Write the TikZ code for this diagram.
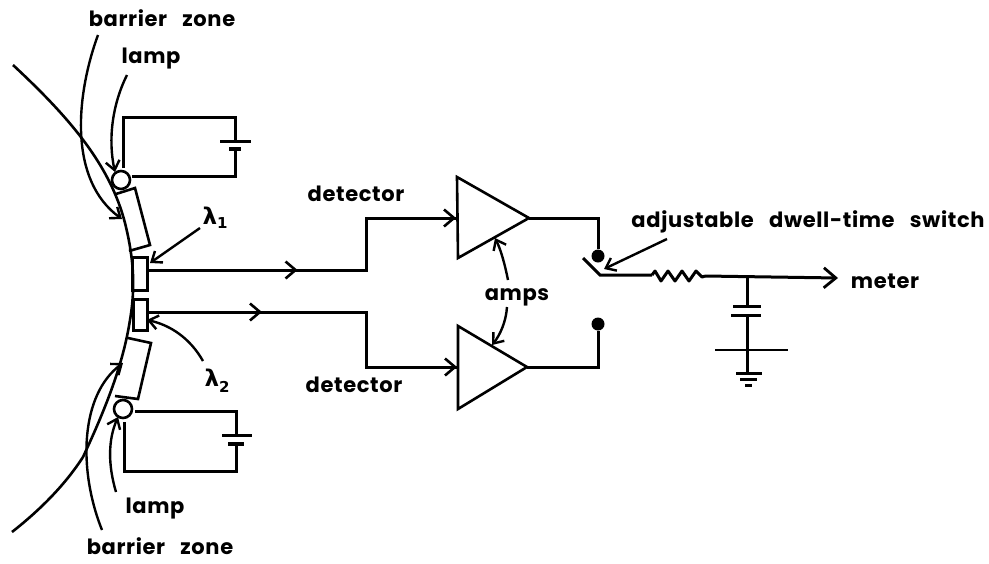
\documentclass[tikz,border=0pt]{standalone}
\usepackage{fontspec}
\setmainfont{Poppins}[LetterSpace=3,WordSpace=3]
\newfontfamily\lamfont{DejaVu Sans}
\usetikzlibrary{arrows.meta,decorations.markings}
\tikzset{
 wire/.style={line width=3pt,line join=miter},
 thin wire/.style={line width=2.6pt},
 pointer/.style={line width=2.4pt,-{Straight Barb[length=9pt,width=14pt,line width=2.4pt]}},
 midarrow/.style={postaction={decorate,decoration={markings,mark=at position #1 with {\arrow{Straight Barb[length=10pt,width=17pt,line width=2.6pt]}}}}},
 lbl/.style={inner sep=0pt,font=\fontsize{21}{24}\selectfont\bfseries},
 lam/.style={inner sep=0pt,font=\fontsize{23}{24}\selectfont\bfseries\lamfont},
 amp/.style={line width=2.6pt,fill=white},
 lamp/.style={circle,draw,line width=2.6pt,fill=white,minimum size=18pt,inner sep=0pt},
 dot/.style={circle,fill=black,minimum size=13pt,inner sep=0pt},
}
\begin{document}
\begin{tikzpicture}[x=1pt,y=-1pt]
\useasboundingbox[fill=white] (0,0) rectangle (989,563);
% barrier boxes and detectors
\draw[thin wire] (116,194) -- (135,188) -- (150,245) -- (129,251);
\draw[thin wire] (128,338) -- (151,343) -- (138,399) -- (115,396);
\node[draw,line width=2.6pt,minimum width=15pt,minimum height=33pt,inner sep=0pt] (detA) at (140,274) {};
\node[draw,line width=2.6pt,minimum width=14pt,minimum height=31pt,inner sep=0pt] (detB) at (140.5,315) {};
% surface
\draw[line width=2.6pt] (13,65) .. controls (70,118) and (110,165) .. (125,223) .. controls (133,255) and (136,285) .. (130,320) .. controls (123,365) and (105,410) .. (83,457) .. controls (65,485) and (40,510) .. (12,532);
% lamps
\node[lamp] (lampA) at (121,180) {};
\node[lamp] (lampB) at (123,409) {};
% battery circuits
\coordinate (batA) at (235,141);
\coordinate (batAb) at (235,149);
\coordinate (batB) at (236,435);
\coordinate (batBb) at (236,444);
\draw[wire] (123,168) -- (123,117) -- (235,117) -- (batA);
\draw[wire,line width=3pt] (220,141) -- (251,141);
\draw[wire,line width=4pt] (229,149) -- (241,149);
\draw[wire] (batAb) -- (235,176) -- (132,176);
\draw[wire] (135,411) -- (236,411) -- (batB);
\draw[wire,line width=3pt] (222,435) -- (252,435);
\draw[wire,line width=3.2pt] (228,444) -- (244,444);
\draw[wire] (batBb) -- (236,471) -- (124,471) -- (124,422);
% amplifiers
\draw[amp] (457,177) -- (529,218) -- (458,258) -- cycle;
\draw[amp] (458,326) -- (527,367) -- (458,409) -- cycle;
\coordinate (ampAin) at (456,218);
\coordinate (ampBin) at (457,367);
\coordinate (ampAout) at (529,218);
\coordinate (ampBout) at (527,367);
\draw[wire,midarrow=0.417] (147,270) -- (366,270) -- (366,218) -- (ampAin);
\draw[wire,midarrow=0.315] (147,312) -- (366,312) -- (366,367) -- (ampBin);
\draw[line width=2.6pt,-{Straight Barb[length=10pt,width=17pt,line width=2.6pt]}] (426,218) -- (ampAin);
\draw[line width=2.6pt,-{Straight Barb[length=10pt,width=17pt,line width=2.6pt]}] (427,367) -- (ampBin);
% switch
\node[dot] (contA) at (598,256) {};
\node[dot] (contB) at (598,324) {};
\coordinate (pole) at (600,275);
\draw[wire] (ampAout) -- (598,218) -- (contA);
\draw[wire] (ampBout) -- (598,367) -- (contB);
\draw[wire] (583,258) -- (pole) -- (652,275);
% resistor
\draw[wire,line join=round] (652,275) -- (655,271) -- (661,281) -- (668,271) -- (675,281) -- (682,271) -- (689,281) -- (696,271) -- (702,277) -- (705,276);
\coordinate (junc) at (747,277);
\draw[wire,-{Straight Barb[length=12pt,width=20pt,line width=2.8pt]}] (705,276) -- (838,278);
% capacitor and ground
\draw[wire] (junc) -- (747,306);
\draw[wire] (733,306) -- (761,306);
\draw[wire] (731,315) -- (761,315);
\draw[wire] (747,315) -- (747,373);
\draw[wire,line width=2.6pt] (715,350) -- (788,350);
\draw[wire] (736,373) -- (762,373);
\draw[wire] (740,379) -- (757,379);
\draw[wire] (745,385) -- (752,385);
% labels
\node[lbl] (bzA) at (162,18) {barrier zone};
\node[lbl] (lampAl) at (151,59) {lamp};
\node[lam] (la1) at (215,218) {λ\raisebox{-4pt}{\fontsize{15}{16}\selectfont 1}};
\node[lam] (la2) at (217,381) {λ\raisebox{-6pt}{\fontsize{15}{16}\selectfont 2}};
\node[lbl] (dA) at (356,194) {detector};
\node[lbl] (dB) at (354,385) {detector};
\node[lbl] (ampsl) at (517,297) {amps};
\node[lbl] (swl) at (808,222) {adjustable dwell-time switch};
\node[lbl] (meterl) at (885,281) {meter};
\node[lbl] (lampBl) at (155,509) {lamp};
\node[lbl] (bzB) at (160,546) {barrier zone};
% pointers
\draw[pointer] (98,35) .. controls (76,95) and (68,180) .. (122,219);
\draw[pointer] (127,75) .. controls (112,105) and (108,140) .. (115,172);
\draw[pointer] (200,228) -- (150,263);
\draw[pointer] (203,361) .. controls (190,338) and (170,325) .. (147,320);
\draw[pointer] (102,530) .. controls (78,470) and (80,395) .. (123,363);
\draw[pointer] (116,492) .. controls (108,465) and (108,440) .. (118,417);
\draw[pointer] (667,239) -- (604,269);
\draw[pointer] (508,280) .. controls (505,265) and (501,250) .. (495,238);
\draw[pointer] (507,307) .. controls (506,322) and (500,335) .. (492,345);
\end{tikzpicture}
\end{document}
